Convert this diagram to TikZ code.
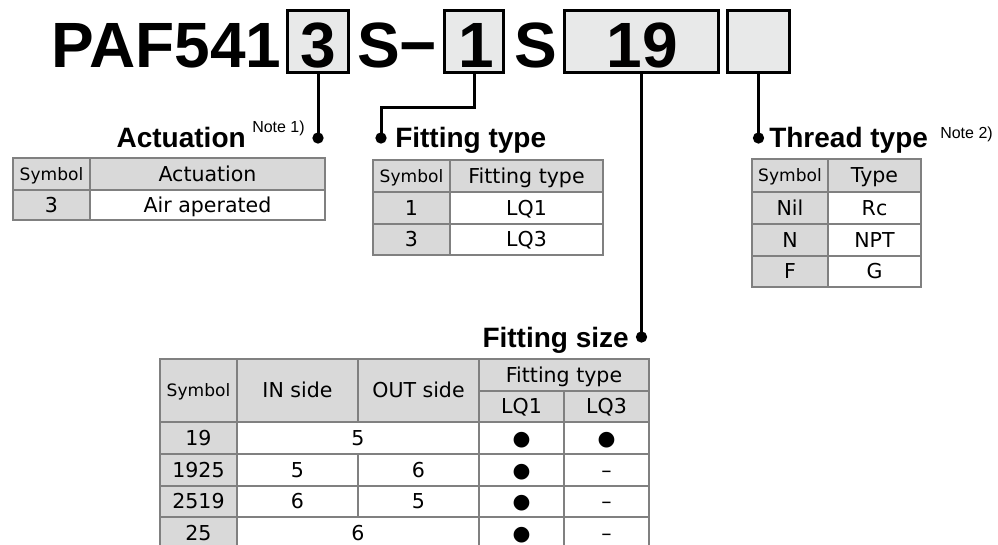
\documentclass[tikz,border=0pt]{standalone}
\usepackage{fontspec}
\setmainfont{DejaVu Sans}
\newfontfamily\arial{Liberation Sans}
\definecolor{hdr}{HTML}{D9D9D9}
\definecolor{boxfill}{HTML}{E8E9E9}
\definecolor{grid}{HTML}{808080}
\newcommand\tcell[7]{\node[#6, minimum width={(#4-#2)*0.75pt}, minimum height={(#5-#3)*0.75pt}] (#1) at ({(#2+#4)/2},{(#3+#5)/2}) {#7};}
\newcommand\cbox[5]{\node[codebox, minimum width={(#4-#2)*0.75pt}, minimum height={(#5-#3)*0.75pt}] (#1) at ({(#2+#4)/2},{(#3+#5)/2}) {};}
\begin{document}
\begin{tikzpicture}[x=0.75pt,y=-0.75pt,
  cellbase/.style={draw=grid, line width=1.1pt, inner sep=0pt, outer sep=0pt, text height=11.2pt, text depth=0pt, font=\fontsize{15.4}{18}\selectfont},
  hcell/.style={cellbase, fill=hdr},
  wcell/.style={cellbase, fill=white},
  small/.style={font=\fontsize{12.8}{15}\selectfont, text height=9.3pt},
  codebox/.style={draw=black, line width=2.25pt, fill=boxfill, inner sep=0pt, outer sep=0pt},
  codetext/.style={font=\arial\bfseries\fontsize{48}{48}\selectfont, inner sep=0pt, anchor=base},
  head/.style={font=\arial\bfseries\fontsize{21}{24}\selectfont, inner sep=0pt},
  note/.style={font=\arial\fontsize{12}{14}\selectfont, inner sep=0pt, anchor=base west},
  dot/.style={circle, fill=black, minimum size=8.5pt, inner sep=0pt},
  conn/.style={line width=2.25pt}]
\useasboundingbox (0,0) rectangle (998,544);
\clip (0,0) rectangle (998,544);
\fill[white] (0,0) rectangle (998,544);

% ---- code line ----
\node[codetext, anchor=base west] (paf) at (51,67) {PAF541};
\cbox{b3}{287.5}{10.5}{348.5}{72.5}
\cbox{b1}{444.5}{10.5}{503.5}{72.5}
\cbox{b19}{564.5}{10.5}{718.5}{72.5}
\cbox{bt}{727.5}{10.5}{789.5}{72.5}
\node[codetext] (t3) at (318,67) {3};
\node[codetext] (s1) at (379,67) {S};
\node[codetext] (dash) at (418,67) {−};
\node[codetext] (t1) at (476,67) {1};
\node[codetext] (s2) at (536,67) {S};
\node[codetext] (t19) at (642,67) {19};

% ---- headings and dots ----
\node[dot] (d1) at (b3.south |- 0,138) {};
\node[dot] (d2) at (381,138) {};
\node[dot] (d3) at (b19.south |- 0,337) {};
\node[dot] (d4) at (bt.south |- 0,138) {};
\coordinate (k2) at (381,107);
\draw[conn] (b3.south) -- (d1.center);
\draw[conn] (b1.south) |- (k2) -- (d2.center);
\draw[conn] (b19.south) -- (d3.center);
\draw[conn] (bt.south) -- (d4.center);

\node[head, anchor=base east] (hact) at (246,147) {Actuation};
\node[note] (n1) at (252,132) {Note 1)};
\node[head, anchor=base west] (hft) at (395,147) {Fitting type};
\node[head, anchor=base west] (htt) at (769,147) {Thread type};
\node[note] (n2) at (940,138) {Note 2)};
\node[head, anchor=base east] (hfs) at (629,347) {Fitting size};

% ---- Actuation table ----
\tcell{a11}{13}{158}{90}{190}{hcell,small}{Symbol}
\tcell{a12}{90}{158}{325}{190}{hcell}{Actuation}
\tcell{a21}{13}{190}{90}{220}{hcell}{3}
\tcell{a22}{90}{190}{325}{220}{wcell}{Air aperated}

% ---- Fitting type table ----
\tcell{f11}{373}{160}{450}{192}{hcell,small}{Symbol}
\tcell{f12}{450}{160}{603}{192}{hcell}{Fitting type}
\tcell{f21}{373}{192}{450}{224}{hcell}{1}
\tcell{f22}{450}{192}{603}{224}{wcell}{LQ1}
\tcell{f31}{373}{224}{450}{255}{hcell}{3}
\tcell{f32}{450}{224}{603}{255}{wcell}{LQ3}

% ---- Thread type table ----
\tcell{r11}{752}{159}{828}{192}{hcell,small}{Symbol}
\tcell{r12}{828}{159}{921}{192}{hcell}{Type}
\tcell{r21}{752}{192}{828}{224}{hcell}{Nil}
\tcell{r22}{828}{192}{921}{224}{wcell}{Rc}
\tcell{r31}{752}{224}{828}{256}{hcell}{N}
\tcell{r32}{828}{224}{921}{256}{wcell}{NPT}
\tcell{r41}{752}{256}{828}{287}{hcell}{F}
\tcell{r42}{828}{256}{921}{287}{wcell}{G}

% ---- Fitting size table ----
\tcell{ssym}{160}{359}{237}{422}{hcell,small}{Symbol}
\tcell{sin}{237}{359}{358}{422}{hcell}{IN side}
\tcell{sout}{358}{359}{479}{422}{hcell}{OUT side}
\tcell{sft}{479}{359}{649}{391}{hcell}{Fitting type}
\tcell{slq1}{479}{391}{564}{422}{hcell}{LQ1}
\tcell{slq3}{564}{391}{649}{422}{hcell}{LQ3}

\tcell{s1a}{160}{422}{237}{454}{hcell}{19}
\tcell{s1b}{237}{422}{479}{454}{wcell}{5}
\tcell{s1c}{479}{422}{564}{454}{wcell}{●}
\tcell{s1d}{564}{422}{649}{454}{wcell}{●}

\tcell{s2a}{160}{454}{237}{486}{hcell}{1925}
\tcell{s2b}{237}{454}{358}{486}{wcell}{5}
\tcell{s2c}{358}{454}{479}{486}{wcell}{6}
\tcell{s2d}{479}{454}{564}{486}{wcell}{●}
\tcell{s2e}{564}{454}{649}{486}{wcell}{–}

\tcell{s3a}{160}{486}{237}{517}{hcell}{2519}
\tcell{s3b}{237}{486}{358}{517}{wcell}{6}
\tcell{s3c}{358}{486}{479}{517}{wcell}{5}
\tcell{s3d}{479}{486}{564}{517}{wcell}{●}
\tcell{s3e}{564}{486}{649}{517}{wcell}{–}

\tcell{s4a}{160}{517}{237}{549}{hcell}{25}
\tcell{s4b}{237}{517}{479}{549}{wcell}{6}
\tcell{s4c}{479}{517}{564}{549}{wcell}{●}
\tcell{s4d}{564}{517}{649}{549}{wcell}{–}
\end{tikzpicture}
\end{document}
